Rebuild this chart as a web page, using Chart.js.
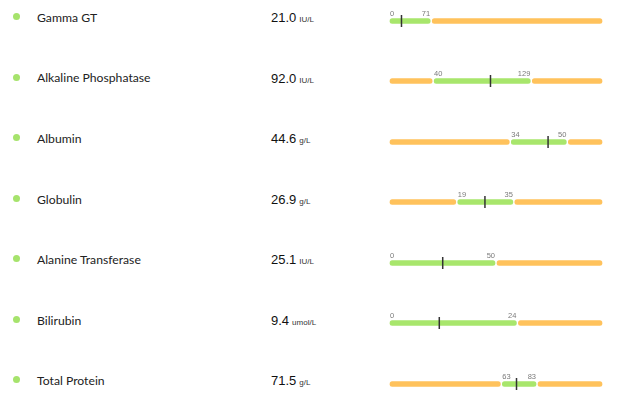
<!DOCTYPE html>
<html lang="en">
<head>
  <meta charset="UTF-8">
  <title>Blood test results</title>
  <script src="https://cdn.jsdelivr.net/npm/chart.js"></script>
  <style>
    html, body {
      margin: 0; padding: 0; background: #fff;
      width: 640px; height: 403px; overflow: hidden;
    }
    .row { position: absolute; left: 0; width: 640px; height: 40px; }
    .dot {
      position: absolute; left: 13px; top: 12.5px;
      width: 7px; height: 7px; border-radius: 50%; background: #a6e36c;
    }
    .name {
      position: absolute; left: 37px; top: 9.4px; line-height: 12px;
      font: 12.2px Lato, sans-serif; color: #222; white-space: nowrap;
    }
    .val {
      position: absolute; left: 271px; top: 10.5px; line-height: 13px;
      font-family: "Liberation Sans", Arial, sans-serif; font-size: 13px;
      color: #111; white-space: nowrap;
    }
    .val small { font-size: 8px; color: #333; margin-left: 3px; }
    .bar { position: absolute; left: 384px; top: 0; width: 224px; height: 34px; }
  </style>
</head>
<body>
  <div id="rows"></div>

  <script>
    const names = ['Gamma GT', 'Alkaline Phosphatase', 'Albumin', 'Globulin',
                   'Alanine Transferase', 'Bilirubin', 'Total Protein'];
    const values = [21.0, 92.0, 44.6, 26.9, 25.1, 9.4, 71.5];
    const units = ['IU/L', 'IU/L', 'g/L', 'g/L', 'IU/L', 'umol/L', 'g/L'];
    const lows = [0, 40, 34, 19, 0, 0, 63];
    const highs = [71, 129, 50, 35, 50, 24, 83];
    const axisMax = [360, 194, 60, 60, 100, 40, 120];

    const GREEN = '#a8e66c';
    const ORANGE = '#ffc25c';
    const ROW_GAP = 60.55;

    // low / high numbers above the bar
    const rangeLabels = {
      id: 'rangeLabels',
      afterDatasetsDraw(chart, args, opts) {
        const { ctx, scales: { x, y } } = chart;
        const cy = y.getPixelForValue(0);
        ctx.save();
        ctx.font = '7.5px "Liberation Sans", Arial, sans-serif';
        ctx.fillStyle = '#7a7a7a';
        ctx.textAlign = 'left';
        ctx.fillText(String(opts.low), x.getPixelForValue(opts.low) + 1, cy - 5.5);
        ctx.textAlign = 'right';
        ctx.fillText(String(opts.high), x.getPixelForValue(opts.high) - 1, cy - 5.5);
        ctx.restore();
      }
    };

    function segment(range, color) {
      return {
        data: [range], backgroundColor: color,
        borderColor: '#fff', borderWidth: 1, borderSkipped: false,
        borderRadius: 3.5, barThickness: 7, grouped: false
      };
    }

    const rowsEl = document.getElementById('rows');

    names.forEach((name, i) => {
      const row = document.createElement('div');
      row.className = 'row';
      row.style.top = (0.5 + ROW_GAP * i) + 'px';
      row.innerHTML =
        `<div class="dot"></div>` +
        `<div class="name">${name}</div>` +
        `<div class="val">${values[i].toFixed(1)}<small>${units[i]}</small></div>` +
        `<div class="bar"><canvas></canvas></div>`;
      rowsEl.appendChild(row);

      const datasets = [];
      if (lows[i] > 0) datasets.push(segment([0, lows[i]], ORANGE));
      datasets.push(segment([lows[i], highs[i]], GREEN));
      datasets.push(segment([highs[i], axisMax[i]], ORANGE));
      // the result marker, drawn on top of the bars
      datasets.push({
        type: 'scatter', order: -1, data: [{ x: values[i], y: name }],
        pointStyle: 'line', pointRotation: 90, pointRadius: 6,
        pointBorderColor: '#333', pointBorderWidth: 1.5
      });

      new Chart(row.querySelector('canvas'), {
        type: 'bar',
        data: { labels: [name], datasets },
        options: {
          indexAxis: 'y',
          animation: false, responsive: true, maintainAspectRatio: false,
          events: [],
          layout: { autoPadding: false, padding: { left: 5, right: 5, top: 6, bottom: 0 } },
          plugins: {
            legend: { display: false }, tooltip: { enabled: false },
            rangeLabels: { low: lows[i], high: highs[i] }
          },
          scales: {
            x: { type: 'linear', min: 0, max: axisMax[i], display: false },
            y: { display: false }
          }
        },
        plugins: [rangeLabels]
      });
    });
  </script>
</body>
</html>
